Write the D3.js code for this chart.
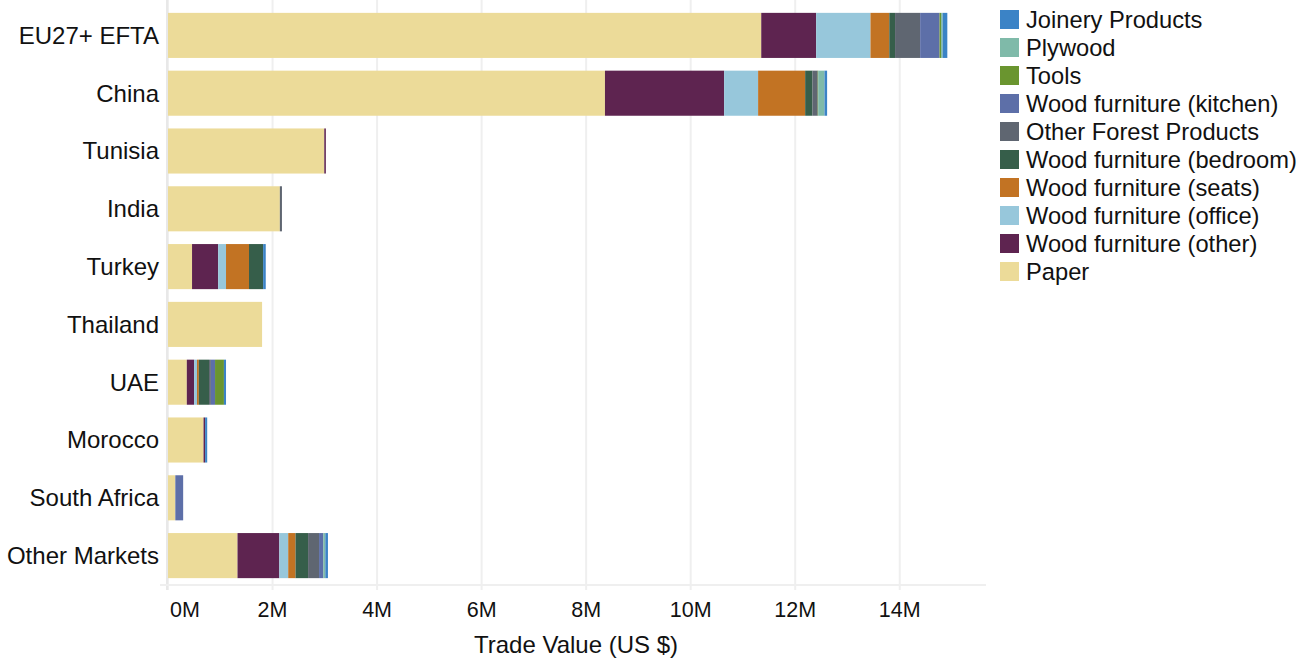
<!DOCTYPE html>
<html><head><meta charset="utf-8">
<script src="https://cdn.jsdelivr.net/npm/d3@7"></script>
<style>body{margin:0;background:#fff;} text{font-family:"Liberation Sans",Arial,sans-serif;fill:#111;}</style>
</head><body><svg id="c" width="1310" height="660"></svg>
<script>
const markets = ["EU27+ EFTA","China","Tunisia","India","Turkey","Thailand","UAE","Morocco","South Africa","Other Markets"];
const seriesNames = ["Paper","Wood furniture (other)","Wood furniture (office)","Wood furniture (seats)","Wood furniture (bedroom)","Other Forest Products","Wood furniture (kitchen)","Tools","Plywood","Joinery Products"];
const seriesColors = ["#ecdb99","#5e2450","#97c7db","#c27323","#365e4a","#5f6671","#5d6fa8","#6a952f","#7fbaa9","#3b83c6"];
// values in millions US$, one array per series, in market order
const paper   = [11.35, 8.36, 2.99, 2.14, 0.46, 1.80, 0.36, 0.68, 0.14, 1.33];
const woodOther   = [1.05, 2.28, 0.03, 0.00, 0.50, 0.00, 0.14, 0.03, 0.00, 0.80];
const woodOffice  = [1.04, 0.65, 0.00, 0.00, 0.15, 0.00, 0.055, 0.00, 0.00, 0.17];
const woodSeats   = [0.36, 0.90, 0.00, 0.00, 0.44, 0.00, 0.035, 0.00, 0.00, 0.14];
const woodBedroom = [0.11, 0.14, 0.00, 0.00, 0.27, 0.00, 0.195, 0.00, 0.00, 0.24];
const otherForest = [0.48, 0.10, 0.00, 0.04, 0.00, 0.00, 0.035, 0.00, 0.00, 0.21];
const woodKitchen = [0.37, 0.00, 0.00, 0.00, 0.00, 0.00, 0.08, 0.00, 0.15, 0.08];
const tools       = [0.03, 0.01, 0.00, 0.00, 0.00, 0.00, 0.17, 0.00, 0.00, 0.00];
const plywood     = [0.03, 0.12, 0.00, 0.00, 0.00, 0.00, 0.00, 0.00, 0.00, 0.04];
const joinery     = [0.09, 0.05, 0.00, 0.00, 0.05, 0.00, 0.04, 0.04, 0.00, 0.05];
const seriesValues = [paper, woodOther, woodOffice, woodSeats, woodBedroom, otherForest, woodKitchen, tools, plywood, joinery];
const xTicks = [0,2,4,6,8,10,12,14];
const xTitle = "Trade Value (US $)";

const svg = d3.select("#c");
const x = d3.scaleLinear().domain([0, 15.65]).range([168, 986]);
const y = d3.scaleBand().domain(markets).range([6.5, 584.5]).paddingInner(0.22).paddingOuter(0.11);

// grid
svg.append("g").selectAll("line").data(xTicks).join("line")
  .attr("x1", d=>x(d)).attr("x2", d=>x(d)).attr("y1", 0).attr("y2", 590)
  .attr("stroke", "#efefef").attr("stroke-width", 2);
svg.append("line").attr("x1",167).attr("x2",167).attr("y1",0).attr("y2",590).attr("stroke","#e8e8e8").attr("stroke-width",2);
svg.append("line").attr("x1",160).attr("x2",986).attr("y1",585).attr("y2",585).attr("stroke","#efefef").attr("stroke-width",2);

const rows = markets.map((m,i)=>{const o={market:m}; seriesNames.forEach((s,j)=>o[s]=seriesValues[j][i]); return o;});
const stacked = d3.stack().keys(seriesNames)(rows);
svg.append("g").selectAll("g").data(stacked).join("g")
  .attr("fill", (d,i)=>seriesColors[i])
  .selectAll("rect").data(d=>d).join("rect")
  .attr("x", d=>x(d[0])).attr("width", d=>Math.max(0, x(d[1])-x(d[0])))
  .attr("y", d=>y(d.data.market)).attr("height", y.bandwidth());

// y labels
svg.append("g").selectAll("text").data(markets).join("text")
  .attr("x", 159).attr("y", d=>y(d)+y.bandwidth()/2).attr("dy","0.35em")
  .attr("text-anchor","end").style("font-size","24px").text(d=>d);

// x tick labels
svg.append("g").selectAll("text").data(xTicks).join("text")
  .attr("x", d=> d===0 ? 170 : x(d)).attr("y", 617).attr("text-anchor", d=> d===0 ? "start" : "middle")
  .style("font-size","21.5px").text(d=>d+"M");
svg.append("text").attr("x", 576).attr("y", 653).attr("text-anchor","middle").style("font-size","24px").text(xTitle);

// legend
const leg = svg.append("g").selectAll("g").data(seriesNames.slice().reverse()).join("g")
  .attr("transform",(d,i)=>`translate(1000,${10+i*28})`);
leg.append("rect").attr("width",19).attr("height",19).attr("fill",d=>seriesColors[seriesNames.indexOf(d)]);
leg.append("text").attr("x",26).attr("y",9.5).attr("dy","0.35em").style("font-size","23.7px").text(d=>d);
</script></body></html>
